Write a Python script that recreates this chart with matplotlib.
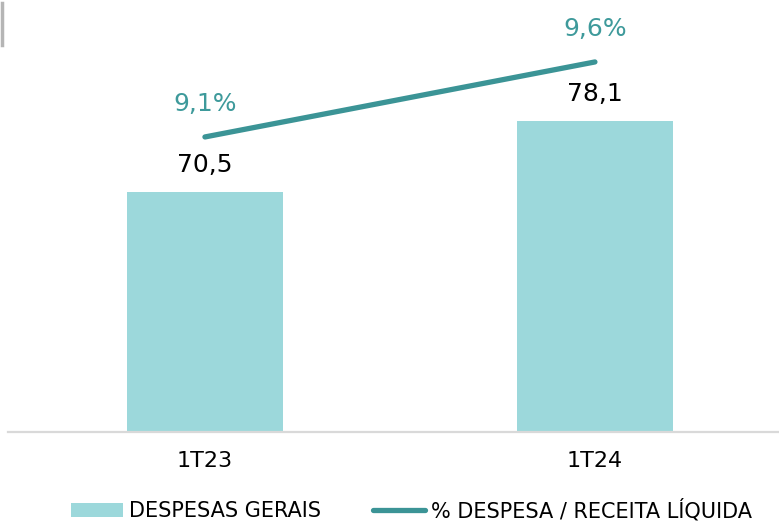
import matplotlib
matplotlib.use("Agg")
import matplotlib.pyplot as plt
from matplotlib.patches import Patch
from matplotlib.lines import Line2D

# data
quarters = ["1T23", "1T24"]
despesas = [70.5, 78.1]
pct_receita = [9.1, 9.6]
despesas_labels = ["70,5", "78,1"]
pct_labels = ["9,1%", "9,6%"]

BAR_COLOR = "#9cd8db"
LINE_COLOR = "#3b9496"
PCT_TEXT = "#3e9a9b"

plt.rcParams['font.family'] = ['DejaVu Sans']

fig = plt.figure(figsize=(7.79, 5.24), dpi=100)
ax = fig.add_axes([8 / 779, 92 / 524, 771 / 779, 432 / 524])
ax2 = ax.twinx()

x = list(range(len(quarters)))
ax.bar(x, despesas, width=0.4, color=BAR_COLOR, zorder=2)
ax.set_ylim(44.86, 91.1)
ax.set_xlim(-0.505, 1.472)

for xi, v, lab in zip(x, despesas, despesas_labels):
    ax.annotate(lab, (xi, v), xytext=(0, 19.5), textcoords="offset points",
                ha="center", va="center", fontsize=18, color="black")

ax2.plot(x, pct_receita, color=LINE_COLOR, lw=3.8, solid_capstyle="round", zorder=3)
ax2.set_ylim(7.133, 10.013)
for xi, v, lab in zip(x, pct_receita, pct_labels):
    ax2.annotate(lab, (xi, v), xytext=(0, 23.5), textcoords="offset points",
                 ha="center", va="center", fontsize=18, color=PCT_TEXT)

for a in (ax, ax2):
    for side in ("top", "right", "left"):
        a.spines[side].set_visible(False)
    a.set_yticks([])
ax2.spines["bottom"].set_visible(False)
ax.spines["bottom"].set_color("#d9d9d9")
ax.spines["bottom"].set_linewidth(1.6)

ax.set_xticks(x, labels=quarters, fontsize=16)
ax.tick_params(axis="x", length=0, pad=14)

# legend
handles = [Patch(facecolor=BAR_COLOR, edgecolor="none"),
           Line2D([0], [0], color=LINE_COLOR, lw=3.8, solid_capstyle="round")]
fig.legend(handles, ["DESPESAS GERAIS", "% DESPESA / RECEITA LÍQUIDA"],
           loc="center", bbox_to_anchor=(411.5 / 779, 1 - 510 / 524), ncol=2,
           frameon=False, fontsize=15, handlelength=2.5, handletextpad=0.28,
           columnspacing=2.5, handleheight=0.6, borderpad=0, borderaxespad=0)

# small gray mark at top-left corner
fig.add_artist(Line2D([1.5 / 779, 1.5 / 779], [1 - 3 / 524, 1 - 45 / 524],
                      transform=fig.transFigure, color="#b5b5b5", lw=2.5))

fig.savefig("out.png", dpi=100)
